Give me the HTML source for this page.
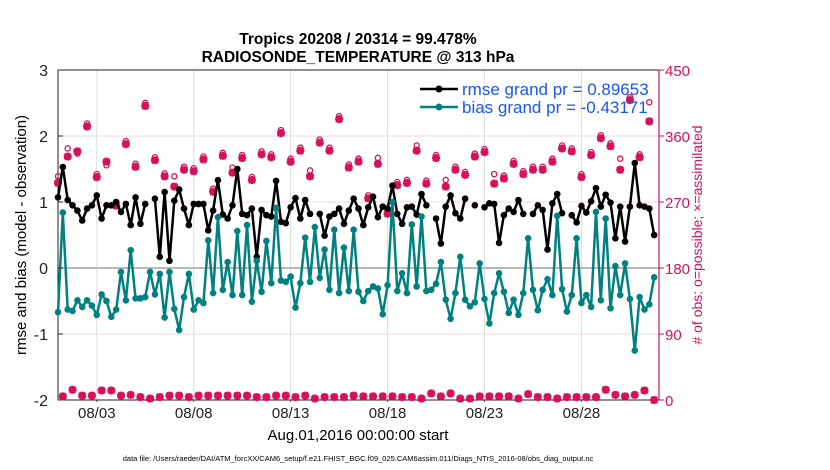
<!DOCTYPE html>
<html><head><meta charset="utf-8"><style>
body{margin:0;background:#fff;}
svg{display:block;font-family:"Liberation Sans",sans-serif;}
</style></head><body>
<svg id="chart" width="830" height="470" viewBox="0 0 830 470">
<text x="358" y="44" text-anchor="middle" font-size="15.5" font-weight="bold">Tropics 20208 / 20314 = 99.478%</text>
<text x="358" y="62" text-anchor="middle" font-size="15.5" font-weight="bold">RADIOSONDE_TEMPERATURE @ 313 hPa</text>
<g id="grid"></g>
<g id="axes"></g>
<g id="series"></g>
<g id="legend">
<line x1="420" y1="89" x2="458" y2="89" stroke="#000" stroke-width="2.5"/>
<circle cx="439" cy="89" r="3.5" fill="#000"/>
<text x="462" y="95" font-size="17" fill="#1a55f5">rmse grand pr = 0.89653</text>
<line x1="420" y1="107" x2="458" y2="107" stroke="#008080" stroke-width="2.5"/>
<circle cx="439" cy="107" r="3.5" fill="#008080"/>
<text x="462" y="113" font-size="17" fill="#1a55f5">bias grand pr = -0.43171</text>
</g>
<text transform="translate(26,235) rotate(-90)" text-anchor="middle" font-size="15">rmse and bias (model - observation)</text>
<text transform="translate(702,235) rotate(-90)" text-anchor="middle" font-size="14" fill="#d6115a"># of obs: o=possible; ×=assimilated</text>
<text x="358" y="440" text-anchor="middle" font-size="15">Aug.01,2016 00:00:00 start</text>
<text x="358" y="461" text-anchor="middle" font-size="7.5">data file: /Users/raeder/DAI/ATM_forcXX/CAM6_setup/f.e21.FHIST_BGC.f09_025.CAM6assim.011/Diags_NTrS_2016-08/obs_diag_output.nc</text>
</svg>
<script>
const rmse=[1.07,1.53,1.03,0.95,0.87,0.72,0.90,0.95,1.10,0.75,0.95,0.95,1.0,0.85,0.97,0.65,1.07,0.67,0.97,null,1.05,0.17,1.15,0.11,1.02,1.19,0.90,0.65,0.97,0.97,0.97,0.57,
0.87,1.33,0.81,0.75,0.95,1.5,0.82,0.80,0.90,0.17,0.88,0.80,0.78,1.32,0.70,0.68,0.92,1.06,0.75,1.03,0.82,null,0.82,0.49,0.78,0.82,0.90,0.67,0.87,1.05,0.90,
0.65,0.92,1.08,0.77,0.93,0.90,1.25,0.82,0.67,0.92,0.93,0.81,1.12,0.95,null,0.75,0.37,0.93,1.10,0.83,0.75,1.05,null,0.95,null,0.92,0.98,0.97,0.38,0.80,0.90,
0.85,1.03,0.82,null,0.82,0.95,0.88,0.28,0.98,1.12,0.83,null,0.80,0.69,0.94,0.84,1.01,1.21,0.93,1.11,0.99,0.45,0.93,0.40,0.93,1.59,0.95,0.93,0.90,0.50];
const bias=[-0.67,0.84,-0.63,-0.65,-0.49,-0.59,-0.49,-0.57,-0.71,-0.40,-0.50,-0.74,-0.63,-0.06,-0.49,0.27,-0.46,-0.46,-0.44,-0.06,-0.40,-0.09,-0.75,-0.06,-0.62,-0.94,-0.44,-0.09,-0.63,-0.49,-0.53,0.42,
-0.38,0.77,-0.33,0.09,-0.41,0.56,-0.41,0.65,-0.51,0.11,-0.36,0.41,-0.23,0.91,-0.19,-0.21,-0.13,-0.60,-0.23,0.46,-0.21,0.62,-0.15,0.28,-0.33,0.58,-0.38,0.31,-0.35,0.58,-0.36,
-0.50,-0.35,-0.28,-0.31,-0.70,-0.26,1.0,-0.35,-0.08,-0.38,0.66,-0.28,0.78,-0.35,-0.33,-0.24,0.09,-0.48,-0.77,-0.38,0.17,-0.48,-0.58,-0.52,0.07,-0.47,-0.84,-0.38,-0.08,-0.36,-0.68,
-0.48,-0.71,-0.38,0.45,-0.33,-0.64,-0.33,-0.17,-0.41,0.79,-0.32,-0.66,-0.41,0.45,-0.53,-0.41,-0.59,0.85,-0.49,0.75,-0.61,0.03,-0.41,0.07,-0.47,-1.25,-0.44,-0.63,-0.55,-0.14];
const assimilated=[296,332,339,373,304,325,265,349,318,401,327,305,291,314,312,328,
284,333,310,330,300,335,331,364,325,340,305,351,340,383,317,325,
275,322,254,293,296,340,295,330,291,314,307,332,338,295,302,
322,308,314,314,325,343,339,304,334,357,346,314,409,331,380];
const possible=[301,339,332,373,304,316,265,349,318,401,327,305,301,314,312,328,
284,333,313,330,300,335,331,364,325,340,309,351,340,383,317,325,
275,326,254,293,296,343,295,330,296,314,307,332,338,304,302,
322,308,314,314,325,343,339,304,334,357,346,325,409,331,402];
const unassimilated=[5,14,6,6,13,13,6,7,4,2,4,6,6,4,6,6,6,6,6,6,4,4,6,6,4,6,2,4,4,4,6,
5,5,5,5,4,4,2,9,5,9,2,2,5,5,5,5,2,8,4,4,2,4,4,4,4,14,7,5,7,13,0];
const xTickLabels=["08/03","08/08","08/13","08/18","08/23","08/28"];
const xTickDays=[2,7,12,17,22,27];
const yTicks=[3,2,1,0,-1,-2];
const y2Ticks=[450,360,270,180,90,0];

const L=58,R=659,T=70,B=400;
const xDay=d=>L+(R-L)*d/31;
const xIdx=i=>xDay(i*0.25);
const yL=v=>B-(v+2)*(B-T)/5;
const yR=c=>B-c*(B-T)/450;
const NS="http://www.w3.org/2000/svg";
function mk(tag,attrs,parent){const e=document.createElementNS(NS,tag);for(const k in attrs)e.setAttribute(k,attrs[k]);parent.appendChild(e);return e;}
const grid=document.getElementById('grid'),axes=document.getElementById('axes'),ser=document.getElementById('series');
xTickDays.forEach((d,k)=>{
  const x=xDay(d);
  const gl=mk('line',{x1:x,y1:T,x2:x,y2:B,stroke:'#dcdcdc','stroke-width':1},grid);
  
  
  mk('line',{x1:x,y1:B,x2:x,y2:B+2,stroke:'#555'},axes);
  const t=mk('text',{x:x,y:B+18,'text-anchor':'middle','font-size':15,fill:'#222'},axes);
  t.textContent=xTickLabels[k];
  
  
});
y2Ticks.forEach(c=>{
  const y=yR(c);
  if(c>0&&c<450){const gl=mk('line',{x1:L,y1:y,x2:R,y2:y,stroke:'#f3d6e0','stroke-width':1},grid);
  
  }
  mk('line',{x1:R,y1:y,x2:R+5,y2:y,stroke:'#d6115a'},axes);
  const t=mk('text',{x:R+6,y:y+6,'font-size':15,fill:'#d6115a'},axes);
  t.textContent=c;
  
  
});
yTicks.forEach(v=>{
  const y=yL(v);
  mk('line',{x1:L,y1:y,x2:L+5,y2:y,stroke:'#222'},axes);
  const t=mk('text',{x:L-10,y:y+6,'text-anchor':'end','font-size':16,fill:'#222'},axes);
  t.textContent=v;
  
  
});
const zl=mk('line',{x1:L,y1:yL(0),x2:R,y2:yL(0),stroke:'#b8b8b8','stroke-width':2},grid);


mk('path',{d:`M${L},${B}V${T}H${R}`,fill:'none',stroke:'#222','stroke-width':1},axes);
mk('line',{x1:L,y1:B,x2:R,y2:B,stroke:'#222'},axes);
mk('line',{x1:R,y1:T,x2:R,y2:B,stroke:'#d6115a','stroke-width':1.2},axes);

function line(arr,color,name){
  let d='',pen=false;
  arr.forEach((v,i)=>{if(v===null){pen=false;return;}d+=(pen?'L':'M')+xIdx(i).toFixed(1)+','+yL(v).toFixed(1);pen=true;});
  const p=mk('path',{d:d,fill:'none',stroke:color,'stroke-width':2.5,'stroke-linejoin':'round'},ser);
  
  
  arr.forEach((v,i)=>{if(v===null)return;
    const c=mk('circle',{cx:xIdx(i),cy:yL(v),r:3.3,fill:color},ser);
    
    });
}
function star(x,y,name){
  const g=mk('path',{d:`M${x-4},${y}H${x+4}M${x},${y-4}V${y+4}M${x-3},${y-3}L${x+3},${y+3}M${x-3},${y+3}L${x+3},${y-3}`,stroke:'#d6115a','stroke-width':2.6,fill:'none'},ser);
  
  
}
possible.forEach((c,k)=>{
  const o=mk('circle',{cx:xIdx(2*k),cy:yR(c)-3,r:2.6,fill:'none',stroke:'#d6115a','stroke-width':1.3},ser);
  
  
});
assimilated.forEach((c,k)=>star(xIdx(2*k),yR(c),'assimilated-obs-marker'));
unassimilated.forEach((c,k)=>star(xIdx(Math.min(2*k+1,123)),yR(c),'low-count-marker'));
line(rmse,'#000','rmse');
line(bias,'#008080','bias');
</script>
</body></html>
